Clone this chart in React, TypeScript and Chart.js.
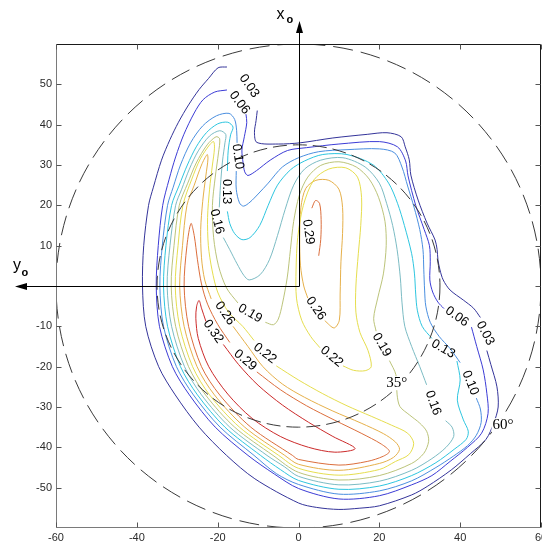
import { useEffect, useRef } from "react";
import { Chart, registerables } from "chart.js";
Chart.register(...registerables);

// ---- data ----
const LEVELS = [0.03, 0.06, 0.10, 0.13, 0.16, 0.19, 0.22, 0.26, 0.29, 0.32];
const LEVEL_COLORS = ["#34349a", "#3c3cd6", "#4a8fe0", "#2ec6e0", "#7cbcc4", "#bcc47a", "#e6de4e", "#e6b04a", "#dc6e3c", "#cc2a2a"];
const X_TICKS = [-60, -40, -20, 0, 20, 40, 60];
const Y_TICKS = [50, 40, 30, 20, 10, 0, -10, -20, -30, -40, -50];
const CIRCLE_RADII = [60, 35];
const CIRCLE_LABELS: [string, number, number][] = [["35°", 24.3, -24.1], ["60°", 50.6, -34.5]];

const C_003 = [
  [[-17.7,54.3],[-19.9,54.1],[-22.3,51.4],[-24.6,48.7],[-27.2,44.9],[-29.7,40.6],[-31.8,36.3],[-33.9,31.2],[-35.9,24.5],[-37.1,20],[-38.3,10],[-38.6,0],[-37.8,-10],[-34.6,-20],[-30.5,-27],[-24.6,-35],[-17.8,-42],[-10.8,-47.8],[0,-53.8],[4.5,-54.9],[10,-55.4],[15,-55.1],[20,-54.5],[28,-51.8],[32,-49.6],[37.8,-45.6],[42.5,-41.6],[46.4,-38],[48.3,-34],[49.4,-30],[49.1,-25],[47.6,-19.5],[46.6,-16]],
  [[45,-7.8],[43.3,-5.5],[40.8,-3.5],[37.5,-1],[35.8,1.5],[35,4],[34.5,6.5],[34.3,9],[33.8,11.4],[31.8,15.6],[29.6,21.3],[27.8,27.5],[27.4,31.3],[26.4,34.5],[25.4,37],[21.9,38],[17,37.6],[8.5,36.7],[0.4,35.5],[-5,35.2],[-10.3,35.6],[-10.9,38],[-10.5,41],[-10.2,43.5]],
];
const C_006 = [
  [[-17.7,48.6],[-20.7,48.1],[-23.6,46.2],[-25.8,42.9],[-28.4,37.5],[-30.4,32],[-32,26.5],[-33.6,20],[-34.7,10],[-35.2,0],[-34.4,-10],[-31.2,-20],[-27,-27],[-20.6,-35],[-12.5,-42],[-6,-46.6],[0,-50.2],[10,-52.8],[20,-52],[28,-49.3],[33,-47],[37.5,-43.5],[41.8,-40],[45.3,-36.5],[46.9,-31.6],[46.6,-26.6],[45.7,-20.8],[44.1,-15],[42.8,-10.2]],
  [[36,-5.6],[34.5,-4],[33.2,-1.5],[32.5,1.5],[32.6,6],[32.4,10],[31.1,14],[29,20],[27.1,27.3],[26.5,31],[24.5,34.5],[20,35.8],[10,35.2],[2,34.3],[-2.7,33.6],[-7,31.2],[-10.4,28.6],[-12.5,27.4],[-13.3,28.3],[-13.7,30.5],[-14,33.7],[-13.4,37],[-12.8,40.5],[-13,42.6]],
];
const C_010 = [
  [[-15.4,28.5],[-15.4,24],[-14.6,20.6],[-13.6,19.8],[-12,20.8],[-10,22.8],[-7.5,25.5],[-4,29.5],[0,31.8],[5,33.3],[12,33.8],[20,34],[23.8,33],[25.6,29.5],[27,24.8],[28.6,19.5],[30,14],[30.8,9],[31,4],[31.2,-1],[31.5,-5],[32.6,-9],[34.8,-12.5],[37.5,-15.5],[40,-19]],
  [[44,-27.8],[45,-30.5],[45.2,-33.8],[44,-37],[41.8,-39.6],[38.3,-42.2],[34,-45],[28,-48.3],[20,-50.8],[10,-51.6],[0,-49.2],[-5.5,-46.5],[-11,-42],[-19.4,-35],[-26,-27],[-30.2,-20],[-33.4,-10],[-34.3,0],[-33.7,10],[-32.4,20],[-31,24.5],[-29.2,30],[-26.7,35.5],[-23.7,39.7],[-20.3,42.2],[-17.2,42.8],[-15.8,41.3],[-15.3,38.5],[-15.2,35.5]],
];
const C_013 = [
  [[-17.6,28.5],[-17.4,33.5],[-16.8,37.5],[-16.2,39.4],[-17.5,40.6],[-20,40.2],[-22.8,38],[-25.3,34.5],[-27.5,30],[-29.5,25],[-31.4,20],[-32.8,10],[-33.4,0],[-32.4,-10],[-29.2,-20],[-25,-27],[-18.2,-35],[-9.4,-42],[-4.5,-45.5],[0,-48.2],[10,-50.4],[20,-49.6],[28,-47],[34,-43.8],[38.5,-40.5],[41.5,-38],[42,-36],[40.8,-33.2],[39.3,-28.3],[40,-23.3],[39.2,-18.6]],
  [[33,-13],[30.6,-10],[29.4,-6],[29,-2],[28.7,3],[28,8],[26.2,15],[24.5,20.5],[22.3,25.5],[18.5,30],[12,32.6],[6,32.6],[1.5,31],[-2,28.8],[-5.2,25],[-7.5,20],[-9.6,15],[-12,12],[-14,11.5],[-15.8,13],[-17,15.5],[-17.6,18.5]],
];
const C_016 = [
  [[-19.6,19.5],[-19.3,25],[-18.8,31],[-18.2,35.5],[-18,37.6],[-19.5,38.5],[-22,37.2],[-24.8,33.5],[-27,29],[-28.9,24],[-30.4,20],[-31.8,10],[-32.5,0],[-31.4,-10],[-28.2,-20],[-24,-27],[-17,-35],[-7.8,-42],[-3.5,-44.8],[0,-47.2],[10,-49.3],[20,-48.4],[28,-45.7],[33,-42.8],[36.5,-40],[38.4,-37.3],[38,-35],[36.4,-33.4]],
  [[31.7,-24.5],[30,-20],[28,-15],[26.3,-10],[25.6,-4],[25.2,2],[24.4,9],[23.3,15],[21.8,20.5],[20,25.5],[16.5,29.5],[11,31.8],[5.5,31.2],[1.5,29],[-1.2,25],[-3.3,19],[-5.2,12.5],[-7.2,6.5],[-9.5,2.8],[-12.2,1.5],[-13.5,2.6],[-15.2,5.5],[-17,9],[-18.6,12]],
];
const C_019 = [
  [[-15,-4.2],[-17.8,-0.5],[-19.8,5],[-21,12],[-21.3,20],[-20.6,27],[-19.8,33],[-19.5,36.5],[-20.4,37],[-22.6,35],[-25.3,30.5],[-27.4,25.5],[-29.5,20],[-30.8,10],[-31.5,0],[-30.4,-10],[-27.2,-20],[-23,-27],[-15.8,-35],[-6.3,-42],[0,-46.2],[10,-48.1],[20,-47],[28,-44],[31,-41.5],[32.2,-38.5],[31.7,-36],[30,-34],[27.5,-32],[25.1,-29.9],[24.4,-27],[24.1,-22],[22.5,-18.5]],
  [[19.2,-11.2],[18.6,-8],[19.6,-3],[21,3],[21.7,10],[21.4,16],[19.8,22],[17.5,26.5],[14.3,29.5],[10,30.8],[5.5,29.9],[2.3,27],[0.2,22.5],[-1.2,16],[-2,9],[-2.8,2],[-4,-4.5],[-5,-8.2],[-6.2,-9.6],[-8.2,-9]],
];
const C_022 = [
  [[-5.5,-19.8],[0,-23.3],[6,-26.7],[12,-29.7],[18,-32.3],[23,-34.5],[27,-36.5],[28.5,-39],[27.3,-41.8],[24,-43.5],[20,-45.5],[10,-46.9],[0,-45.2],[-4.9,-42],[-14.6,-35],[-22,-27],[-26.2,-20],[-29.4,-10],[-30.5,0],[-29.8,10],[-28.6,20],[-26.4,26.5],[-24.3,31.5],[-22,35],[-21,35.8],[-20.8,34],[-21.3,30],[-22,24],[-22.5,17],[-22.3,10],[-21.4,4],[-20,-1.5],[-17.3,-6.5],[-13.8,-10],[-11,-13.5]],
  [[11,-19.8],[13.6,-20.9],[16.5,-21],[18,-20],[17.2,-16],[15.2,-11.5],[14.2,-6.5],[14.2,0],[14.8,8],[15.4,15],[15.6,22],[14.6,27],[11.7,29.3],[7.5,29],[3.8,26.3],[1.2,20],[-0.2,12],[-0.6,4],[-0.5,-3],[0.8,-8.5],[3,-12.5],[5.3,-15.3]],
];
const C_026 = [
  [[-16.2,-10],[-12.5,-15],[-8.8,-20],[-4,-24.3],[1.5,-27.6],[8.5,-31],[15.5,-34],[21,-36.6],[24,-38.7],[25,-40.5],[23.5,-42.5],[20,-44],[10,-45.7],[0,-44.2],[-3.4,-42],[-13.3,-35],[-20.8,-27],[-25.1,-20],[-28.3,-10],[-29.4,0],[-28.7,10],[-27.6,20],[-25.8,25],[-24,30],[-22.6,32.6],[-22.4,31.5],[-22.9,27.5],[-23.7,21],[-24.2,14],[-24,7],[-23.2,1.5],[-21.6,-3.2]],
  [[6.5,-8.6],[8.8,-10.4],[10.1,-8.5],[10.3,-2],[10.5,6],[10.9,13],[10.9,19.5],[10,24],[7.5,26.2],[4.3,26.2],[1.8,24.2],[0.6,19.5],[0.3,12],[0.5,5],[1.3,0],[2.3,-3]],
];
const C_029 = [
  [[-10.3,-21.3],[-4.5,-25.7],[2,-29.7],[9,-33.3],[15.5,-36.5],[20.5,-39.2],[22.5,-41],[21,-42.2],[17,-43.5],[10,-44.4],[0,-43],[-1.5,-42],[-11.8,-35],[-19.5,-27],[-24,-20],[-27.2,-10],[-28.3,0],[-27.6,10],[-26.6,15.5],[-25.8,12.5],[-25,6.5],[-24,0.5],[-22.5,-4.5],[-20,-9.5],[-17,-14]],
  [[3.3,19.3],[4.2,21.2],[5.2,20.5],[5.6,16.5],[5.5,11.5],[5,7.5]],
];
const C_032 = [
  [[-22.9,-8.8],[-24,-5.5],[-24.6,-3.6],[-25.2,-5],[-25.4,-8],[-24.8,-13],[-22.2,-20],[-17.5,-26.8],[-11.5,-32.8],[-4.5,-37.3],[2.5,-40],[9,-41.2],[14,-40.3],[8.5,-37.3],[2.5,-33.8],[-4,-29.5],[-10,-24.6],[-14.8,-19.5],[-18.6,-14.5]],
];
const CONTOURS = [C_003, C_006, C_010, C_013, C_016, C_019, C_022, C_026, C_029, C_032];

// contour labels: text, x, y, rotation (deg)
const CONTOUR_LABELS: [string, number, number, number][] = [
  ["0.03", -12.2, 49.6, 55], ["0.06", -14.6, 45.4, 52], ["0.10", -15.0, 32.1, 82],
  ["0.13", -17.8, 23.4, 90], ["0.16", -20.2, 16, 75], ["0.29", 2.4, 13.4, 82],
  ["0.26", 4.3, -5.6, 55], ["0.19", -12, -6.8, 30], ["0.26", -18.2, -6.8, 55],
  ["0.32", -21.1, -11.3, 55], ["0.22", -8.3, -16.7, 38], ["0.29", -13.2, -18.4, 40],
  ["0.22", 8.2, -17.5, 40], ["0.19", 20.6, -14.6, 60], ["0.06", 39.2, -7.6, 35],
  ["0.03", 46.2, -11.7, 62], ["0.13", 35.8, -15.6, 30], ["0.10", 42.5, -24, 68],
  ["0.16", 33.3, -29, 70],
];

const overlayPlugin = {
  id: "overlay",
  beforeDraw(chart: any) {
    const { ctx, width, height } = chart;
    ctx.save();
    ctx.fillStyle = "#fff";
    ctx.fillRect(0, 0, width, height);
    ctx.restore();
  },
  afterDatasetsDraw(chart: any) {
    const { ctx, chartArea: a, scales } = chart;
    const px = (v: number) => scales.x.getPixelForValue(v);
    const py = (v: number) => scales.y.getPixelForValue(v);
    ctx.save();
    // dashed circles
    ctx.save();
    ctx.beginPath();
    ctx.rect(a.left, a.top, a.right - a.left, a.bottom - a.top);
    ctx.clip();
    ctx.strokeStyle = "#3a3a3a";
    ctx.lineWidth = 1;
    const dashes = [[20, 8], [14, 6]];
    CIRCLE_RADII.forEach((r, i) => {
      ctx.setLineDash(dashes[i]);
      ctx.beginPath();
      ctx.ellipse(px(0), py(0), px(r) - px(0), py(0) - py(r), 0, 0, Math.PI * 2);
      ctx.stroke();
    });
    ctx.restore();

    // frame
    const L = a.left + 0.5, R = a.right - 0.5, T = a.top + 0.5, B = a.bottom - 0.5;
    ctx.lineWidth = 1;
    ctx.strokeStyle = "#7a7a7a";
    ctx.beginPath();
    ctx.moveTo(L, T); ctx.lineTo(L, B); ctx.lineTo(R, B);
    ctx.stroke();
    ctx.strokeStyle = "#1a1a1a";
    ctx.beginPath();
    ctx.moveTo(L, T); ctx.lineTo(R, T); ctx.lineTo(R, B);
    ctx.stroke();

    // inward ticks
    ctx.strokeStyle = "#555";
    ctx.beginPath();
    X_TICKS.forEach((v) => {
      const x = Math.round(px(v)) + 0.5;
      ctx.moveTo(x, B); ctx.lineTo(x, B - 5);
      ctx.moveTo(x, T); ctx.lineTo(x, T + 5);
    });
    Y_TICKS.forEach((v) => {
      const y = Math.round(py(v)) + 0.5;
      ctx.moveTo(L, y); ctx.lineTo(L + 5, y);
      ctx.moveTo(R, y); ctx.lineTo(R - 5, y);
    });
    ctx.stroke();

    // tick labels
    ctx.fillStyle = "#2a2a2a";
    ctx.font = '11px "Liberation Sans", Arial, sans-serif';
    ctx.textAlign = "center";
    ctx.textBaseline = "middle";
    X_TICKS.forEach((v) => ctx.fillText(String(v), px(v), a.bottom + 10));
    ctx.textAlign = "right";
    Y_TICKS.filter((v) => v !== 0).forEach((v) => ctx.fillText(String(v), a.left - 4, py(v)));

    // origin arrows
    const ox = Math.round(px(0)) + 0.5, oy = Math.round(py(0)) + 0.5;
    ctx.strokeStyle = "#000";
    ctx.fillStyle = "#000";
    ctx.beginPath();
    ctx.moveTo(ox, oy); ctx.lineTo(ox, 32);
    ctx.moveTo(ox, oy); ctx.lineTo(26, oy);
    ctx.stroke();
    ctx.beginPath();
    ctx.moveTo(ox, 21); ctx.lineTo(ox - 3.5, 33); ctx.lineTo(ox + 3.5, 33); ctx.closePath();
    ctx.fill();
    ctx.beginPath();
    ctx.moveTo(15, oy); ctx.lineTo(27, oy - 3.5); ctx.lineTo(27, oy + 3.5); ctx.closePath();
    ctx.fill();
    ctx.textAlign = "left";
    ctx.textBaseline = "alphabetic";
    ctx.font = '16px "Liberation Sans", Arial, sans-serif';
    ctx.fillText("x", ox - 23, 18.5);
    ctx.fillText("y", 13, 270);
    ctx.font = 'bold 11px "Liberation Sans", Arial, sans-serif';
    ctx.fillText("o", ox - 13, 23);
    ctx.fillText("o", 21.5, 276);
    ctx.restore();
  },
  afterDraw(chart: any) {
    const { ctx, scales } = chart;
    const px = (v: number) => scales.x.getPixelForValue(v);
    const py = (v: number) => scales.y.getPixelForValue(v);
    ctx.save();
    ctx.fillStyle = "#000";
    ctx.textAlign = "center";
    ctx.textBaseline = "middle";
    ctx.font = '13px "Liberation Sans", Arial, sans-serif';
    CONTOUR_LABELS.forEach(([t, x, y, r]) => {
      ctx.save();
      ctx.translate(px(x), py(y));
      ctx.rotate((r * Math.PI) / 180);
      ctx.fillText(t, 0, 0);
      ctx.restore();
    });
    ctx.font = '15px "Liberation Serif", "Times New Roman", serif';
    CIRCLE_LABELS.forEach(([t, x, y]) => {
      const w = ctx.measureText(t).width;
      ctx.fillStyle = "#fff";
      ctx.fillRect(px(x) - w / 2 - 1, py(y) - 7, w + 2, 14);
      ctx.fillStyle = "#000";
      ctx.fillText(t, px(x), py(y));
    });
    ctx.restore();
  },
};

export default function App() {
  const ref = useRef<HTMLCanvasElement>(null);
  useEffect(() => {
    const datasets: any[] = [];
    CONTOURS.forEach((segs, i) => {
      segs.forEach((seg) => {
        datasets.push({
          label: String(LEVELS[i]),
          data: seg.map(([x, y]) => ({ x, y })),
          showLine: true,
          borderColor: LEVEL_COLORS[i],
          borderWidth: 1,
          pointRadius: 0,
          tension: 0.3,
          fill: false,
        });
      });
    });
    const chart = new Chart(ref.current!, {
      type: "scatter",
      data: { datasets },
      options: {
        animation: false,
        responsive: false,
        devicePixelRatio: 1,
        layout: { padding: { left: 56, top: 44, right: 1, bottom: 16 } },
        plugins: { legend: { display: false }, tooltip: { enabled: false } },
        scales: {
          x: { type: "linear", min: -60, max: 60, display: false },
          y: { type: "linear", min: -60, max: 60, display: false },
        },
      },
      plugins: [overlayPlugin],
    } as any);
    return () => chart.destroy();
  }, []);
  return (
    <div style={{ position: "fixed", left: 0, top: 0, width: 542, height: 544, background: "#fff" }}>
      <canvas ref={ref} width={542} height={544} style={{ display: "block", width: 542, height: 544 }} />
    </div>
  );
}
